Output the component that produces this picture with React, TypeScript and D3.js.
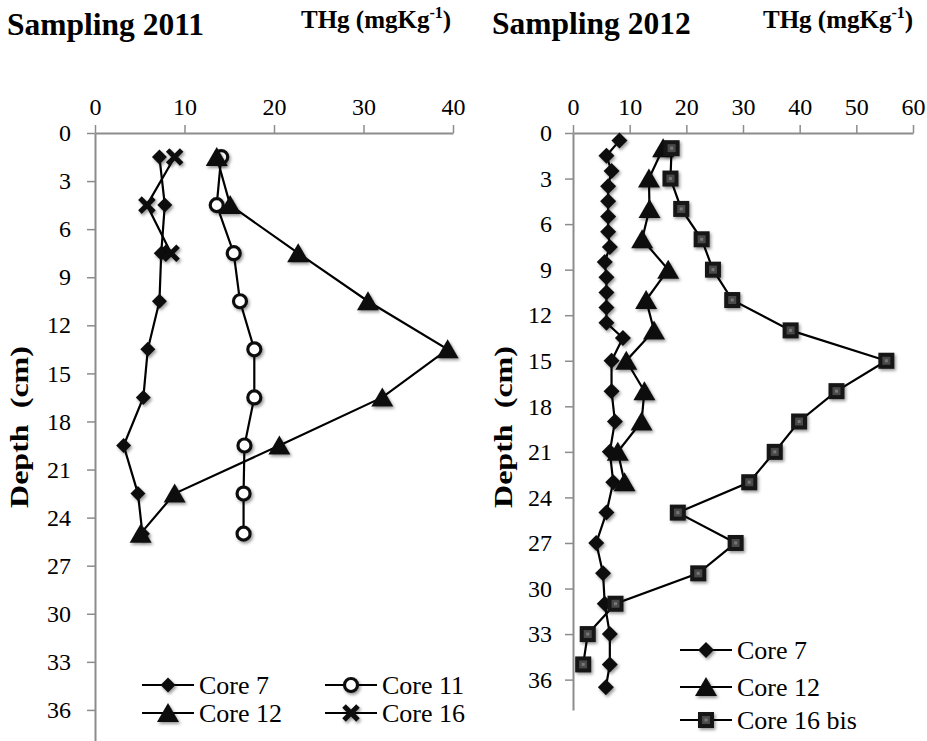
import React, { useEffect, useRef } from 'react';
import * as d3 from 'd3';

// ---- data: Sampling 2011 ----
const depth2011 = [1.5, 4.5, 7.5, 10.5, 13.5, 16.5, 19.5, 22.5, 25];
const core7_2011 = [7.2, 7.8, 7.4, 7.2, 5.9, 5.4, 3.2, 4.8, 5.3];
const core11_2011 = [14.1, 13.6, 15.5, 16.2, 17.8, 17.8, 16.7, 16.6, 16.6];
const core12_2011 = [13.6, 15.1, 22.7, 30.5, 39.4, 32.1, 20.6, 8.9, 5.1];
const depth16_2011 = [1.5, 4.5, 7.5];
const core16_2011 = [8.9, 5.8, 8.5];

// ---- data: Sampling 2012 ----
const depth7_2012 = [0.5, 1.5, 2.5, 3.5, 4.5, 5.5, 6.5, 7.5, 8.5, 9.5, 10.5, 11.5, 12.5, 13.5, 15, 17, 19, 21, 23, 25, 27, 29, 31, 33, 35, 36.5];
const core7_2012 = [8.2, 5.9, 6.8, 6.2, 6.2, 6.2, 6.2, 6.5, 5.6, 5.9, 5.9, 5.9, 5.9, 8.8, 6.8, 6.8, 7.4, 6.5, 7.1, 5.9, 4.1, 5.3, 5.6, 6.5, 6.5, 5.8];
const depth12_2012 = [1, 3, 5, 7, 9, 11, 13, 15, 17, 19, 21, 23];
const core12_2012 = [15.9, 13.4, 13.5, 12.2, 16.8, 12.9, 14.3, 9.4, 12.6, 12.1, 7.9, 9.1];
const depth16_2012 = [1, 3, 5, 7, 9, 11, 13, 15, 17, 19, 21, 23, 25, 27, 29, 31, 33, 35];
const core16bis_2012 = [17.4, 17.2, 19.1, 22.7, 24.7, 28.1, 38.4, 55.3, 46.5, 39.9, 35.6, 31.1, 18.5, 28.7, 22.1, 7.5, 2.6, 1.8];

const xTicks2011 = [0, 10, 20, 30, 40];
const xTicks2012 = [0, 10, 20, 30, 40, 50, 60];
const depthTicks = [0, 3, 6, 9, 12, 15, 18, 21, 24, 27, 30, 33, 36];

const SERIF = "'Liberation Serif', 'Times New Roman', serif";
const AXIS_GREY = '#8c8c8c';

type Marker = 'diamond' | 'circle' | 'triangle' | 'cross' | 'square';

const drawMarker = (g: any, type: Marker, x: number, y: number, big: boolean) => {
  const m = g.append('g').attr('transform', `translate(${x},${y})`).attr('filter', 'url(#shadow)');
  if (type === 'diamond') {
    const r = big ? 7.5 : 8;
    m.append('path').attr('d', `M0,${-r}L${r},0L0,${r}L${-r},0Z`).attr('fill', '#111');
  } else if (type === 'triangle') {
    m.append('path').attr('d', 'M0,-10L11,9L-11,9Z').attr('fill', '#111');
  } else if (type === 'circle') {
    m.append('circle').attr('r', 6.5).attr('fill', '#fff').attr('stroke', '#111').attr('stroke-width', 3.2);
  } else if (type === 'cross') {
    m.append('path').attr('d', 'M-7,-7L7,7M7,-7L-7,7').attr('stroke', '#111').attr('stroke-width', 5);
  } else {
    m.append('rect').attr('x', -8).attr('y', -8).attr('width', 16).attr('height', 16).attr('fill', '#151515');
    m.append('rect').attr('x', -4).attr('y', -4).attr('width', 8).attr('height', 8).attr('fill', '#4a4a4a');
    m.append('rect').attr('x', -1.5).attr('y', -1.5).attr('width', 3).attr('height', 3).attr('fill', '#777');
  }
};

const App = () => {
  const svgRef = useRef<SVGSVGElement>(null);

  useEffect(() => {
    if (!svgRef.current) return;
    const svg = d3.select(svgRef.current);
    svg.selectAll('*').remove();

    const defs = svg.append('defs');
    defs.append('filter').attr('id', 'shadow').attr('x', '-50%').attr('y', '-50%').attr('width', '200%').attr('height', '200%')
      .append('feDropShadow').attr('dx', 1.5).attr('dy', 2).attr('stdDeviation', 1.6)
      .attr('flood-color', '#000').attr('flood-opacity', 0.4);

    const panels = [
      {
        title: 'Sampling 2011', titleX: 7, titleY: 35, unitX: 301, labelX: 28,
        x: d3.scaleLinear().domain([0, 40]).range([95, 453]),
        y: d3.scaleLinear().domain([0, 39]).range([133, 758]),
        xTicks: xTicks2011, yPad: 16, big: true,
        series: [
          { name: 'Core 7', depth: depth2011, values: core7_2011, marker: 'diamond' as Marker },
          { name: 'Core 11', depth: depth2011, values: core11_2011, marker: 'circle' as Marker },
          { name: 'Core 12', depth: depth2011, values: core12_2011, marker: 'triangle' as Marker },
          { name: 'Core 16', depth: depth16_2011, values: core16_2011, marker: 'cross' as Marker },
        ],
        legend: [
          { i: 0, x: 142, y: 685 }, { i: 1, x: 325, y: 685 },
          { i: 2, x: 142, y: 713 }, { i: 3, x: 325, y: 713 },
        ],
      },
      {
        title: 'Sampling 2012', titleX: 492, titleY: 34, unitX: 763, labelX: 512,
        x: d3.scaleLinear().domain([0, 60]).range([573, 913]),
        y: d3.scaleLinear().domain([0, 38]).range([133, 710]),
        xTicks: xTicks2012, yPad: 13, big: false,
        series: [
          { name: 'Core 7', depth: depth7_2012, values: core7_2012, marker: 'diamond' as Marker },
          { name: 'Core 12', depth: depth12_2012, values: core12_2012, marker: 'triangle' as Marker },
          { name: 'Core 16 bis', depth: depth16_2012, values: core16bis_2012, marker: 'square' as Marker },
        ],
        legend: [
          { i: 0, x: 680, y: 650 }, { i: 1, x: 680, y: 687 }, { i: 2, x: 680, y: 720 },
        ],
      },
    ];

    panels.forEach((p) => {
      const g = svg.append('g');

      // titles
      g.append('text').attr('x', p.titleX).attr('y', p.titleY)
        .attr('font-family', SERIF).attr('font-weight', 'bold').attr('font-size', 31.5).text(p.title);
      const unit = g.append('text').attr('x', p.unitX).attr('y', 28)
        .attr('font-family', SERIF).attr('font-weight', 'bold').attr('font-size', 25);
      unit.append('tspan').text('THg (mgKg');
      unit.append('tspan').attr('font-size', 16).attr('dy', -10).text('-1');
      unit.append('tspan').attr('dy', 10).text(')');

      // axes
      const xAxis = g.append('g').attr('transform', `translate(0,${p.y(0)})`)
        .call(d3.axisTop(p.x).tickValues(p.xTicks).tickSize(8).tickSizeOuter(0).tickPadding(10));
      const yAxis = g.append('g').attr('transform', `translate(${p.x(0)},0)`)
        .call(d3.axisLeft(p.y).tickValues(depthTicks).tickSize(8).tickSizeOuter(0).tickPadding(p.yPad));
      [xAxis, yAxis].forEach((a) => {
        a.attr('font-family', SERIF).attr('font-size', 24);
        a.select('.domain').attr('stroke', AXIS_GREY).attr('stroke-width', 2);
        a.selectAll('.tick line').attr('stroke', AXIS_GREY).attr('stroke-width', 1.5);
        a.selectAll('.tick text').attr('fill', '#000');
      });

      // y label
      g.append('text')
        .attr('transform', `translate(${p.labelX},427) rotate(-90)`)
        .attr('text-anchor', 'middle').attr('font-family', SERIF).attr('font-weight', 'bold')
        .attr('font-size', 26).attr('textLength', 162).attr('lengthAdjust', 'spacingAndGlyphs')
        .style('white-space', 'pre').text('Depth  (cm)');

      // lines + markers
      const line = d3.line<[number, number]>().x((d) => p.x(d[0])).y((d) => p.y(d[1]));
      p.series.forEach((s) => {
        const pts: [number, number][] = s.values.map((v, i) => [v, s.depth[i]]);
        g.append('path').datum(pts).attr('d', line).attr('fill', 'none')
          .attr('stroke', '#000').attr('stroke-width', 2.2);
      });
      p.series.forEach((s) => {
        s.values.forEach((v, i) => drawMarker(g, s.marker, p.x(v), p.y(s.depth[i]), p.big));
      });

      // legend
      p.legend.forEach((l) => {
        const s = p.series[l.i];
        g.append('line').attr('x1', l.x).attr('x2', l.x + 52).attr('y1', l.y).attr('y2', l.y)
          .attr('stroke', '#000').attr('stroke-width', 2.2);
        drawMarker(g, s.marker, l.x + 26, l.y, p.big);
        g.append('text').attr('x', l.x + 57).attr('y', l.y).attr('dy', '0.35em')
          .attr('font-family', SERIF).attr('font-size', 26).text(s.name);
      });
    });
  }, []);

  return (
    <div style={{ position: 'absolute', left: 0, top: 0 }}>
      <svg ref={svgRef} width={927} height={741} style={{ display: 'block', background: '#fff' }} />
    </div>
  );
};

export default App;
